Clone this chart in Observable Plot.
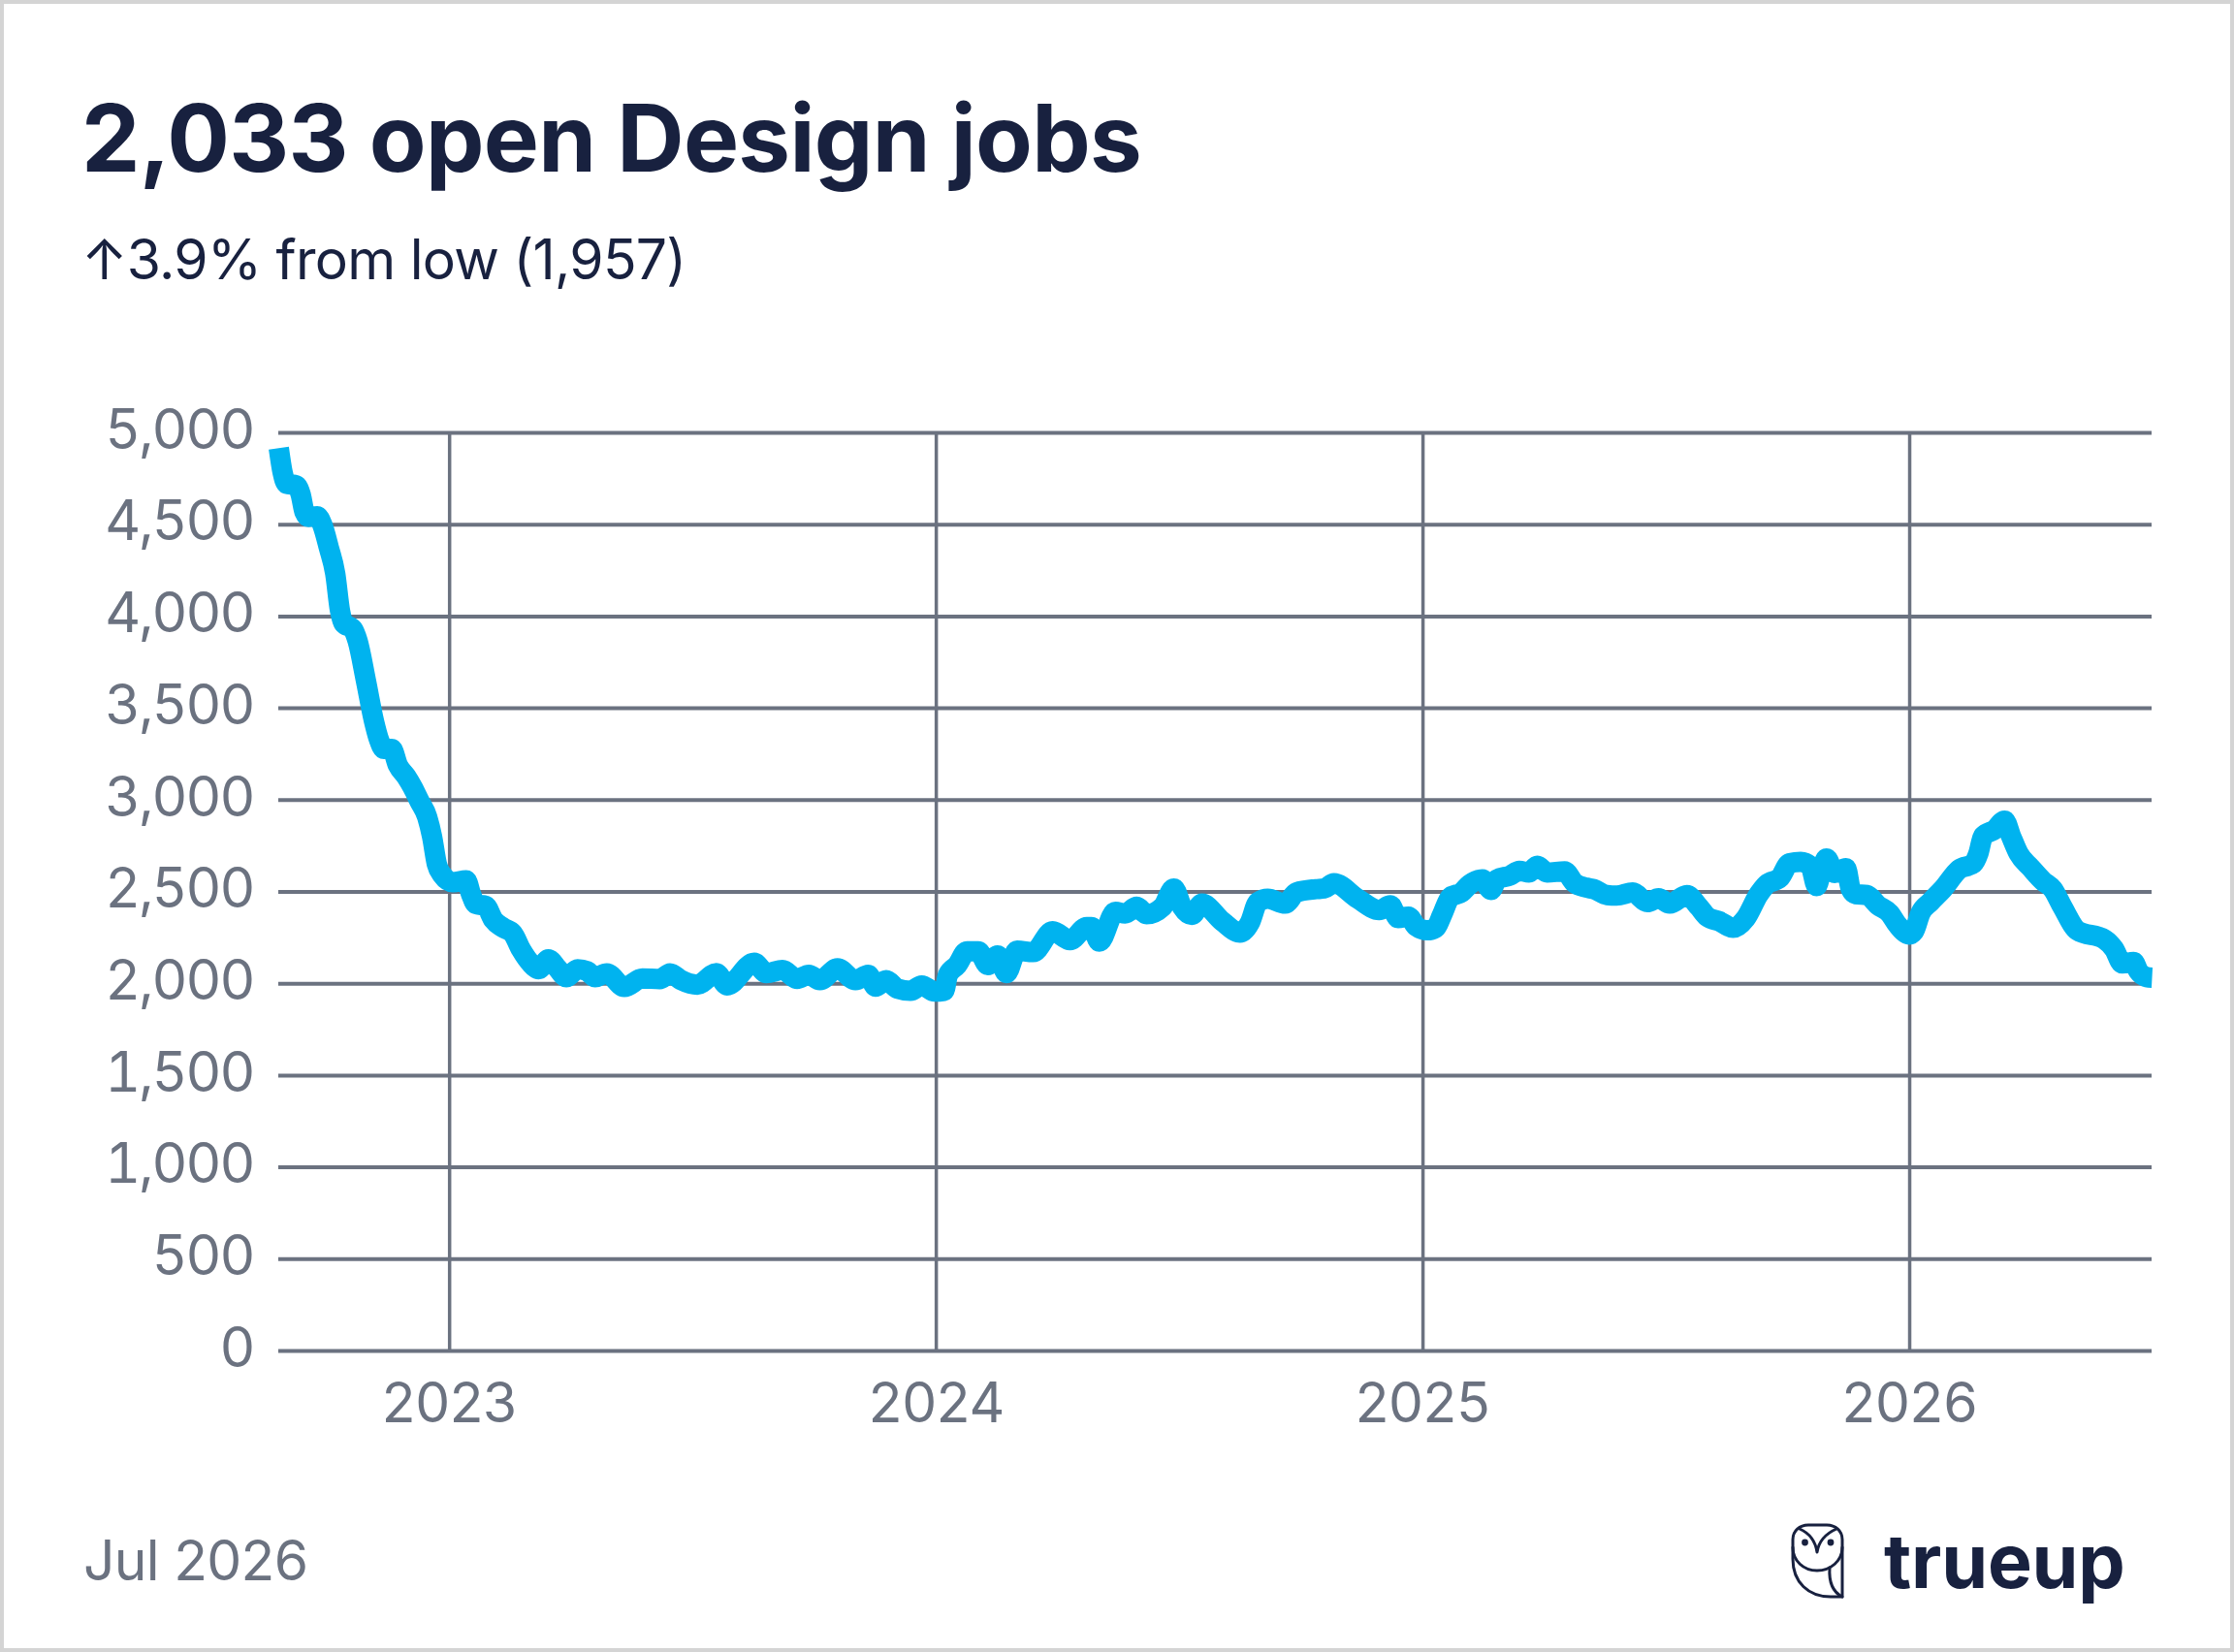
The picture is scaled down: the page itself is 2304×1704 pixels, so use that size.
<!DOCTYPE html>
<html>
<head>
<meta charset="utf-8">
<script src="https://cdn.jsdelivr.net/npm/d3@7"></script>
<script src="https://cdn.jsdelivr.net/npm/@observablehq/plot@0.6"></script>
<style>
html,body{margin:0;padding:0;background:#fff;}
#card{position:relative;width:2304px;height:1704px;box-sizing:border-box;border:4px solid #d4d4d4;background:#fff;font-family:Inter,sans-serif;overflow:hidden;}
.t{position:absolute;white-space:nowrap;line-height:1;}
#title{left:80px;top:90px;font-size:96px;font-weight:650;color:#18213f;letter-spacing:-0.72px;}
#sub{left:80px;top:235px;font-size:57px;font-weight:400;color:#18213f;letter-spacing:-0.72px;}
#date{left:82px;top:1577px;font-size:57px;color:#6b7280;letter-spacing:-0.7px;}
#brand{left:1939px;top:1568px;font-size:77px;font-weight:700;color:#18213f;letter-spacing:-0.2px;}
#owl{position:absolute;left:1836px;top:1556px;width:80px;height:100px;}
#chart{position:absolute;left:-4px;top:396px;width:2304px;}
</style>
</head>
<body>
<div id="card">
  <div id="title" class="t">2,033 open Design jobs</div>
  <div id="sub" class="t">↑3.9% from low (1,957)</div>
  <div id="chart"></div>
  <div id="date" class="t">Jul 2026</div>
  <svg id="owl" viewBox="0 0 80 100" fill="none" stroke="#18213f" stroke-width="3" stroke-linejoin="round" stroke-linecap="round">
    <path d="M60,87 V28 C60,19 53,13 44,13 H25 C16,13 9,19 9,28 V48 C9,72 25,87 48,87 H60 Z"/>
    <path d="M9,36 C9,50 20,60 34,60 C48,60 60,50 60,36"/>
    <path d="M16,17 C25,21 32,28 34,41 C36,28 45,21 54,17"/>
    <path d="M47,57 C46,72 50,82 60,87"/>
    <circle cx="21.5" cy="31" r="3.4" fill="#18213f" stroke="none"/>
    <circle cx="48" cy="31" r="3.4" fill="#18213f" stroke="none"/>
  </svg>
  <div id="brand" class="t">trueup</div>
</div>
<script>
const yearPos = [
2022.649,2022.657,2022.665,2022.685,2022.694,2022.702,2022.710,2022.728,2022.738,2022.752,2022.765,2022.775,2022.782,2022.801,2022.811,2022.828,2022.845,2022.855,2022.865,2022.881,2022.894,2022.911,2022.924,2022.938,2022.954,2022.964,2022.974,2022.984,
2023.007,2023.034,2023.044,2023.054,2023.074,2023.090,2023.110,2023.130,2023.147,2023.167,2023.183,2023.203,2023.220,2023.240,2023.263,2023.283,2023.299,2023.323,2023.359,2023.396,2023.432,2023.453,2023.475,2023.509,2023.548,2023.570,2023.626,2023.651,2023.684,2023.714,2023.738,2023.761,2023.797,2023.834,2023.860,2023.875,2023.897,2023.920,2023.947,2023.970,2023.997,
2024.016,2024.024,2024.043,2024.063,2024.086,2024.106,2024.126,2024.144,2024.166,2024.199,2024.239,2024.275,2024.309,2024.319,2024.335,2024.368,2024.388,2024.412,2024.432,2024.465,2024.488,2024.505,2024.525,2024.546,2024.588,2024.624,2024.644,2024.661,2024.681,2024.717,2024.740,2024.780,2024.797,2024.817,2024.866,2024.910,2024.933,2024.949,2024.970,2024.986,
2025.009,2025.026,2025.039,2025.056,2025.079,2025.096,2025.122,2025.140,2025.152,2025.179,2025.198,2025.218,2025.235,2025.255,2025.291,2025.311,2025.335,2025.351,2025.378,2025.398,2025.431,2025.461,2025.484,2025.507,2025.542,2025.567,2025.584,2025.610,2025.637,2025.663,2025.690,2025.706,2025.733,2025.753,2025.776,2025.796,2025.809,2025.819,2025.829,2025.846,2025.869,2025.879,2025.889,2025.912,2025.935,2025.959,2025.975,2025.999,
2026.009,2026.022,2026.042,2026.068,2026.102,2026.131,2026.141,2026.151,2026.175,2026.195,2026.208,2026.224,2026.248,2026.274,2026.294,2026.314,2026.345,2026.400,2026.420,2026.437,2026.460,2026.470,2026.487,2026.498];
const jobs = [
4917,4783,4723,4714,4665,4568,4542,4546,4503,4374,4234,4029,3964,3932,3867,3652,3426,3329,3279,3279,3189,3128,3070,2995,2908,2801,2650,2596,
2553,2564,2488,2434,2424,2348,2305,2273,2186,2111,2079,2133,2089,2035,2079,2068,2035,2057,1982,2029,2025,2057,2021,1995,2058,1991,2114,2058,2075,2026,2049,2019,2084,2019,2049,1984,2019,1973,1961,1991,1957,
1961,2049,2102,2177,2177,2102,2154,2058,2181,2172,2286,2237,2308,2308,2230,2392,2383,2419,2378,2419,2519,2419,2375,2436,2339,2278,2331,2445,2463,2436,2498,2515,2519,2547,2463,2401,2427,2357,2366,2313,
2291,2304,2374,2471,2497,2541,2568,2511,2568,2589,2615,2606,2643,2606,2612,2550,2524,2515,2483,2480,2497,2444,2466,2436,2483,2418,2365,2339,2304,2356,2488,2541,2576,2656,2664,2641,2532,2620,2682,2603,2629,2515,2488,2483,2427,2383,2321,2268,
2286,2383,2444,2515,2624,2655,2708,2805,2840,2888,2805,2708,2634,2559,2515,2418,2289,2242,2189,2110,2119,2068,2036,2033];
const yTicks = [0,500,1000,1500,2000,2500,3000,3500,4000,4500,5000];
const xTicks = [2023,2024,2025,2026];
const xDomain = [2022.649,2026.498];
const series = yearPos.map((x,i)=>({x,y:jobs[i]}));

const gridColor = "#6b7280";
const chart = Plot.plot({
  width: 2304,
  height: 1100,
  marginLeft: 287,
  marginRight: 85,
  marginTop: 46,
  marginBottom: 107,
  style: {fontFamily:"Inter, sans-serif", fontSize:"57px", color:gridColor, background:"transparent", overflow:"visible", maxWidth:"none", letterSpacing:"-2px"},
  x: {domain:xDomain, label:null},
  y: {domain:[0,5000], label:null},
  marks: [
    Plot.gridY(yTicks,{stroke:gridColor,strokeOpacity:1,strokeWidth:4}),
    Plot.gridX(xTicks,{stroke:gridColor,strokeOpacity:1,strokeWidth:3.5}),
    Plot.axisY(yTicks,{tickSize:0,tickPadding:26,tickFormat:d3.format(","),label:null,fontSize:57,fill:gridColor,dy:-2}),
    Plot.axisX(xTicks,{tickSize:0,tickPadding:33,tickFormat:d3.format("d"),label:null,fontSize:57,fill:gridColor,dx:-1}),
    Plot.line(series,{x:"x",y:"y",stroke:"#00b3ef",strokeWidth:21,curve:"monotone-x",strokeLinejoin:"round",strokeLinecap:"butt"})
  ]
});
document.getElementById("chart").appendChild(chart);
</script>
</body>
</html>
